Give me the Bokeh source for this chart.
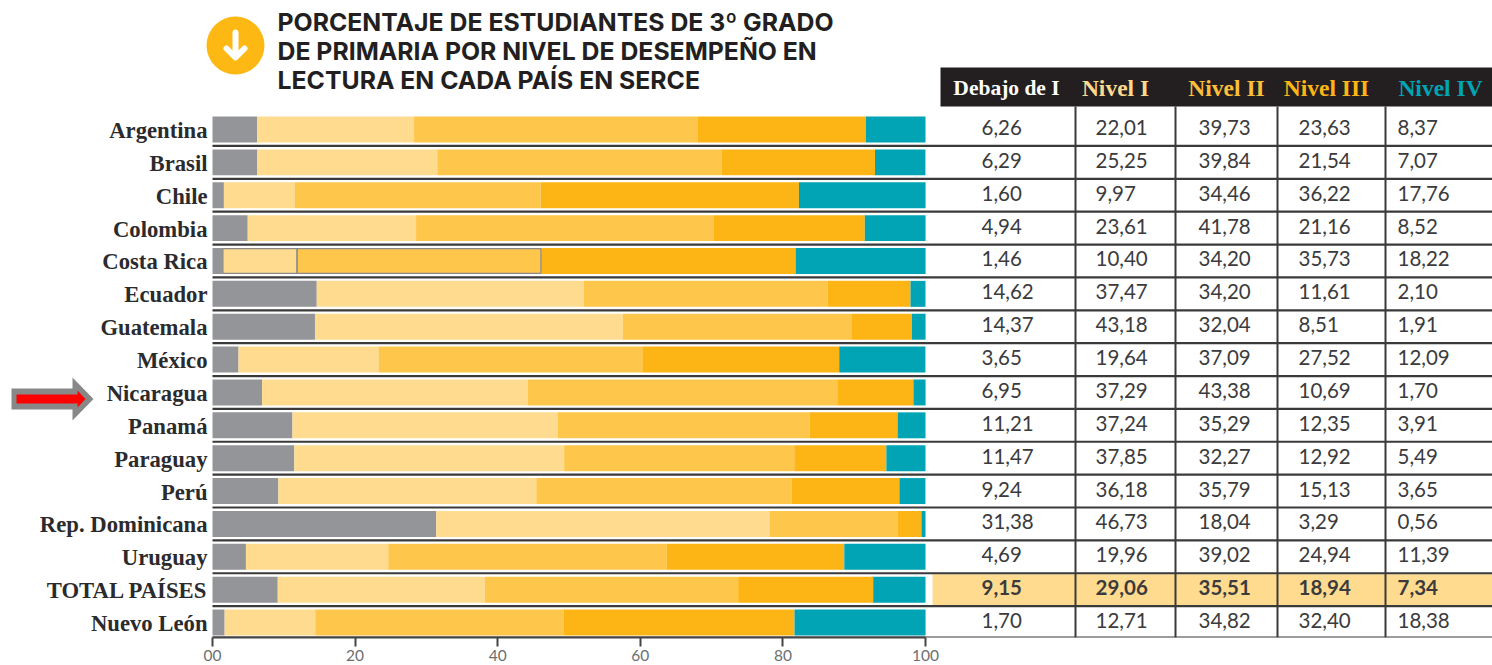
from bokeh.plotting import figure
from bokeh.models import Range1d, LinearAxis, FixedTicker
from bokeh.core.properties import value
from bokeh.embed import file_html
from bokeh.resources import INLINE

countries = ["Argentina", "Brasil", "Chile", "Colombia", "Costa Rica", "Ecuador", "Guatemala", "México",
             "Nicaragua", "Panamá", "Paraguay", "Perú", "Rep. Dominicana", "Uruguay", "TOTAL PAÍSES", "Nuevo León"]
levels = ["Debajo de I", "Nivel I", "Nivel II", "Nivel III", "Nivel IV"]
debajo = [6.26, 6.29, 1.60, 4.94, 1.46, 14.62, 14.37, 3.65, 6.95, 11.21, 11.47, 9.24, 31.38, 4.69, 9.15, 1.70]
nivel1 = [22.01, 25.25, 9.97, 23.61, 10.40, 37.47, 43.18, 19.64, 37.29, 37.24, 37.85, 36.18, 46.73, 19.96, 29.06, 12.71]
nivel2 = [39.73, 39.84, 34.46, 41.78, 34.20, 34.20, 32.04, 37.09, 43.38, 35.29, 32.27, 35.79, 18.04, 39.02, 35.51, 34.82]
nivel3 = [23.63, 21.54, 36.22, 21.16, 35.73, 11.61, 8.51, 27.52, 10.69, 12.35, 12.92, 15.13, 3.29, 24.94, 18.94, 32.40]
nivel4 = [8.37, 7.07, 17.76, 8.52, 18.22, 2.10, 1.91, 12.09, 1.70, 3.91, 5.49, 3.65, 0.56, 11.39, 7.34, 18.38]
series = [debajo, nivel1, nivel2, nivel3, nivel4]
bar_colors = ["#939598", "#fedb8f", "#fec64a", "#fdb515", "#00a4b4"]
head_colors = ["#ffffff", "#fdd98c", "#fdbf3a", "#fdb515", "#00a4b4"]
x_ticks = [0, 20, 40, 60, 80, 100]
title_lines = ["PORCENTAJE DE ESTUDIANTES DE 3º GRADO", "DE PRIMARIA POR NIVEL DE DESEMPEÑO EN", "LECTURA EN CADA PAÍS EN SERCE"]

# layout, in pixels of the page
L, R, T, B = 0, 1492, 0, 637
X0, X100 = 212, 925
PITCH, Y_FIRST = 32.87, 129
BAR_H = 0.79
col_left = [981, 1095, 1198, 1298, 1397]
head_cx = [1007, 1116, 1227, 1327, 1441]
head_sizes = ["21.5px", "23.5px", "23.5px", "23.5px", "23.5px"]
seps = [1075, 1175, 1277, 1385]
TAB_L = 940

sx = (X100 - X0) / 100
p = figure(frame_width=R - L, frame_height=B - T, output_backend="svg", toolbar_location=None,
           x_range=Range1d((L - X0) / sx, (R - X0) / sx),
           y_range=Range1d((B - Y_FIRST) / PITCH, (T - Y_FIRST) / PITCH),
           x_axis_type=None, y_axis_type=None, min_border=0, outline_line_color=None)
p.grid.visible = False
p.extra_x_ranges["px"] = Range1d(L, R)
p.extra_y_ranges["py"] = Range1d(B, T)
PX = dict(x_range_name="px", y_range_name="py")
rows = list(range(len(countries)))

# bars
left = [0.0] * len(countries)
for vals, col in zip(series, bar_colors):
    right = [a + b for a, b in zip(left, vals)]
    p.hbar(y=rows, left=left, right=right, height=BAR_H, fill_color=col, line_color=None)
    left = right
# Costa Rica's boxed segments
cr = countries.index("Costa Rica")
p.hbar(y=[cr, cr], left=[debajo[cr], debajo[cr] + nivel1[cr]],
       right=[debajo[cr] + nivel1[cr], debajo[cr] + nivel1[cr] + nivel2[cr]],
       height=BAR_H * 0.95, fill_color=None, line_color="#8a8a8c", line_width=1.2)

# x axis
ax = LinearAxis(ticker=FixedTicker(ticks=x_ticks), bounds=(0, 100), major_label_overrides={0: "00"},
                axis_line_color="#444444", axis_line_width=2, major_tick_line_color="#444444", major_tick_line_width=2,
                major_tick_in=0, major_tick_out=9, minor_tick_line_color=None, major_label_standoff=3,
                major_label_text_font="Lato", major_label_text_font_size="15.5px", major_label_text_color="#6d6e71")
p.add_layout(ax, "below")

# total highlight
tot = countries.index("TOTAL PAÍSES")
p.quad(left=[932], right=[R], top=[Y_FIRST + PITCH * tot - 15.5], bottom=[Y_FIRST + PITCH * tot + 15.5],
       fill_color="#fedb8f", line_color=None, **PX)

# rules
ys = [Y_FIRST + PITCH * (i + 0.5) for i in rows[:-1]] + [B]
p.segment(x0=[X0] * len(ys), x1=[R] * len(ys), y0=ys, y1=ys, line_color="#3a3a3a", line_width=2.2, **PX)
p.segment(x0=seps, x1=seps, y0=[106] * 4, y1=[B] * 4, line_color="#3a3a3a", line_width=2, **PX)

# header
p.quad(left=[TAB_L], right=[R], top=[67], bottom=[106], fill_color="#231f20", line_color=None, **PX)
for cx, lab, col, size in zip(head_cx, levels, head_colors, head_sizes):
    p.text(x=[cx - 1], y=[87], text=[lab], text_color=col, text_align="center", text_baseline="middle",
           text_font=value("Liberation Serif"), text_font_style="bold", text_font_size=size, **PX)

# table values
for j, vals in enumerate(series):
    for i, v in enumerate(vals):
        p.text(x=[col_left[j]], y=[Y_FIRST + PITCH * i - 2], text=[f"{v:.2f}".replace(".", ",")],
               text_color="#3b3b3d", text_baseline="middle", text_font=value("Lato"),
               text_font_size="20.5px", text_font_style="bold" if i == tot else "normal", **PX)

# country labels
p.text(x=[207] * len(countries), y=[Y_FIRST + PITCH * i + 1 for i in rows], text=countries, text_align="right",
       text_baseline="middle", text_color="#2b2b2d", text_font=value("Liberation Serif"), text_font_style="bold",
       text_font_size="22.7px", **PX)

# title
p.text(x=[277] * 3, y=[21, 50, 79], text=title_lines, text_color="#231f20", text_baseline="middle",
       text_font=value("Inter"), text_font_style="bold", text_font_size="24.8px", **PX)
p.scatter(x=[235], y=[45], size=58, marker="circle", fill_color="#fdb813", line_color=None, **PX)
p.multi_line(xs=[[235, 235], [226, 235, 244]], ys=[[32, 56], [48, 57, 48]], line_color="#ffffff", line_width=6,
             line_cap="round", line_join="round", **PX)

# arrow
p.patch(x=[11, 72, 72, 93, 72, 72, 11], y=[388, 388, 377, 398.5, 420, 409, 409], fill_color="#888888", line_color=None, **PX)
p.patch(x=[16, 77, 77, 85, 77, 77, 16], y=[394, 394, 390, 398.5, 407, 403, 403], fill_color="#ff0000", line_color=None, **PX)

open("out.html", "w").write(file_html(p, INLINE))
